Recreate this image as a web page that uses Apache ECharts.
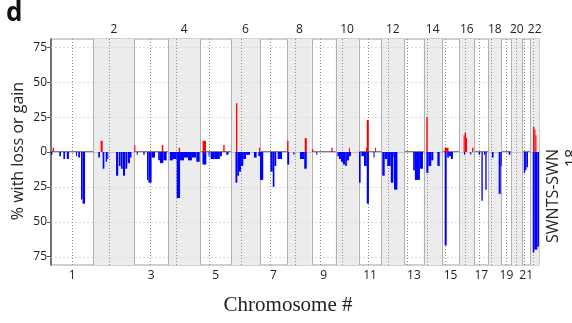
<!DOCTYPE html>
<html>
<head>
<meta charset="utf-8">
<script src="https://cdn.jsdelivr.net/npm/echarts@6/dist/echarts.min.js"></script>
<style>
html,body{margin:0;padding:0;background:#fff}
#chart{width:572px;height:323px}
</style>
</head>
<body>
<div id="chart"></div>
<script>
// chromosomes (hg19, Mb)
const chromNames = ['1','2','3','4','5','6','7','8','9','10','11','12','13','14','15','16','17','18','19','20','21','22'];
const chromLen = [249.25,243.20,198.02,191.15,180.92,171.12,159.14,146.36,141.21,135.53,135.01,133.85,115.17,107.35,102.53,90.35,81.20,78.08,59.13,63.03,48.13,51.30];
const centromere = [125.0,93.3,91.0,50.4,48.4,61.0,59.9,45.6,49.0,40.2,53.7,35.8,17.9,17.6,19.0,36.6,24.0,17.2,26.5,27.5,13.2,14.7];
const yTicks = [-75,-50,-25,0,25,50,75];

// [start Mb, end Mb, % of samples], genome-wide position
const lossSegs = [
  [0,8,2],[49,59,3],[73,83,5],[93,106,5],[148,154,3],[161,171,4],[177,186,34],[186,201,37],
  [279,289,4],[305,315,12],[323,331,7],[332,338,5],[384,397,17],[401,411,10],[413,423,12],[425,437,17],[439,450,12],[453,466,8],[466,475,4],
  [506,512,2],[545,553,2],[567,575,20],[575,594,22],[594,614,4],[633,643,6],[643,663,8],[663,683,6],
  [701,720,6],[720,742,5],[742,762,33],[762,785,6],[785,809,4],[809,832,6],[832,856,4],[858,878,7],
  [894,917,9],[930,936,3],[942,963,5],[963,997,5],[997,1009,3],[1035,1048,2],
  [1089,1100,22],[1100,1110,17],[1110,1122,14],[1122,1135,10],[1135,1151,5],[1151,1175,2],[1198,1214,4],[1224,1234,3],
  [1234,1253,20],[1295,1309,14],[1309,1319,25],[1319,1330,10],[1338,1364,5],
  [1395,1406,9],[1431,1434,2],[1470,1495,5],[1495,1510,12],
  [1566,1572,2],
  [1691,1700,3],[1700,1712,5],[1712,1724,7],[1724,1737,9],[1737,1747,10],[1747,1759,6],[1759,1771,3],
  [1818,1828,22],[1832,1848,3],[1848,1864,10],[1864,1877,37],[1904,1910,4],
  [1956,1970,17],[1970,1985,5],[1985,2006,10],[2006,2021,22],[2021,2025,4],[2025,2045,27],
  [2138,2148,13],[2148,2178,20],[2178,2196,12],
  [2216,2228,15],[2228,2245,10],[2245,2257,6],[2281,2295,10],
  [2324,2336,67],[2339,2349,4],[2349,2361,3],[2361,2373,5],
  [2438,2444,2],[2475,2481,2],
  [2525,2533,2],[2541,2549,35],[2556,2564,2],[2564,2572,27],
  [2603,2613,4],[2643,2655,30],[2655,2659,10],
  [2702,2712,2],
  [2791,2799,15],[2799,2807,13],[2807,2816,11],
  [2844,2853,72],[2853,2871,70],[2871,2881,68]
];
const gainSegs = [
  [10,18,3],[293,305,8],[492,498,5],[654,663,5],[754,762,3],[895,915,8],[1017,1025,5],
  [1092,1100,35],[1228,1234,3],[1394,1402,8],[1498,1510,10],[1541,1549,2],[1655,1663,3],
  [1759,1765,3],[1860,1864,3],[1864,1876,23],[1913,1919,3],[2216,2224,25],[2324,2347,3],
  [2436,2442,12],[2442,2450,14],[2450,2456,10],[2486,2494,3],[2846,2854,18],[2854,2860,16],[2860,2864,12]
];

const chromStart = [];
let acc = 0;
chromLen.forEach(l => { chromStart.push(acc); acc += l; });
const genomeLen = acc;
const chromMid = chromStart.map((s, i) => s + chromLen[i] / 2);
const boundaries = chromStart.slice(1);
const cenPos = chromStart.map((s, i) => s + centromere[i]);
const evenChroms = chromStart.map((s, i) => [s, s + chromLen[i]]).filter((d, i) => i % 2 === 1);

function chromLabel(v) {
  const i = chromMid.findIndex(m => Math.abs(m - v) < 0.01);
  return i >= 0 ? chromNames[i] : '';
}

function vline(dash, color) {
  return function (params, api) {
    const cs = params.coordSys;
    const x = Math.round(api.coord([api.value(0), 0])[0]) + 0.5;
    return {type: 'line', shape: {x1: x, y1: cs.y, x2: x, y2: cs.y + cs.height},
      style: {stroke: color, lineWidth: 1, lineDash: dash}};
  };
}
function hline(dash, color) {
  return function (params, api) {
    const cs = params.coordSys;
    const y = Math.round(api.coord([0, api.value(0)])[1]) + 0.5;
    return {type: 'line', shape: {x1: cs.x, y1: y, x2: cs.x + cs.width, y2: y},
      style: {stroke: color, lineWidth: 1, lineDash: dash}};
  };
}
function bars(sign, color) {
  return function (params, api) {
    const a = api.coord([api.value(0), 0]);
    const b = api.coord([api.value(1), sign * api.value(2)]);
    return {type: 'rect', shape: {x: a[0], y: Math.min(a[1], b[1]), width: Math.max(b[0] - a[0], 1), height: Math.abs(b[1] - a[1])},
      style: {fill: color}};
  };
}

const chart = echarts.init(document.getElementById('chart'));
const font = 'Open Sans';
chart.setOption({
  animation: false,
  backgroundColor: '#fff',
  grid: {left: 51, top: 39, width: 488, height: 226, show: true, borderColor: '#a0a0a0', borderWidth: 1},
  xAxis: [{
    type: 'value', min: 0, max: genomeLen, position: 'bottom',
    axisLine: {show: true, lineStyle: {color: '#555', width: 1.5}},
    axisTick: {show: false}, splitLine: {show: false},
    axisLabel: {customValues: chromMid.filter((m, i) => i % 2 === 0), formatter: chromLabel,
      fontFamily: font, fontSize: 12, color: '#222', margin: 5}
  }, {
    type: 'value', min: 0, max: genomeLen, position: 'top',
    axisLine: {show: false}, axisTick: {show: false}, splitLine: {show: false},
    axisLabel: {customValues: chromMid.filter((m, i) => i % 2 === 1), formatter: chromLabel,
      fontFamily: font, fontSize: 12, color: '#222', margin: 3}
  }],
  yAxis: {
    type: 'value', min: -81, max: 81,
    axisLine: {show: true, lineStyle: {color: '#555', width: 1.5}},
    axisTick: {show: true, customValues: yTicks, length: 4, lineStyle: {color: '#555'}},
    splitLine: {show: false},
    axisLabel: {customValues: yTicks, formatter: v => String(Math.abs(v)),
      fontFamily: font, fontSize: 12, color: '#222', margin: 4}
  },
  graphic: [
    {type: 'text', left: 6, top: 1, style: {text: 'd', font: 'bold 26px "Open Sans"', fill: '#111'}},
    {type: 'text', x: 18, y: 151, rotation: Math.PI / 2,
      style: {text: '% with loss or gain', font: '16px "Open Sans"', fill: '#222', align: 'center', verticalAlign: 'middle'}},
    {type: 'text', x: 288, y: 305,
      style: {text: 'Chromosome #', font: '21px "Liberation Serif"', fill: '#222', align: 'center', verticalAlign: 'middle'}},
    {type: 'text', x: 553, y: 196, rotation: Math.PI / 2,
      style: {text: 'SWNTS-SWN', font: '16px "Open Sans"', fill: '#222', align: 'center', verticalAlign: 'middle'}},
    {type: 'text', x: 572, y: 158, rotation: Math.PI / 2,
      style: {text: '18', font: '16px "Open Sans"', fill: '#222', align: 'center', verticalAlign: 'middle'}}
  ],
  series: [
    {type: 'custom', data: evenChroms, encode: {x: [0, 1]}, silent: true,
      renderItem: function (params, api) {
        const cs = params.coordSys;
        const x0 = api.coord([api.value(0), 0])[0];
        const x1 = api.coord([api.value(1), 0])[0];
        return {type: 'rect', shape: {x: x0, y: cs.y, width: x1 - x0, height: cs.height}, style: {fill: '#ececec'}};
      }},
    {type: 'custom', data: [-75, -50, -25, 25, 50, 75].map(v => [v]), encode: {y: 0}, silent: true, renderItem: hline([2, 2], '#dcdcdc')},
    {type: 'custom', data: [[0]], encode: {y: 0}, silent: true, renderItem: hline(null, '#c8c8c8')},
    {type: 'custom', data: boundaries.map(v => [v]), encode: {x: 0}, silent: true, renderItem: vline(null, '#b0b0b0')},
    {type: 'custom', data: cenPos.map(v => [v]), encode: {x: 0}, silent: true, renderItem: vline([1, 2], '#8c8c8c')},
    {type: 'custom', name: 'loss', data: lossSegs, encode: {x: [0, 1], y: 2}, renderItem: bars(-1, '#0000ff')},
    {type: 'custom', name: 'gain', data: gainSegs, encode: {x: [0, 1], y: 2}, renderItem: bars(1, '#ff0000')}
  ]
});
</script>
</body>
</html>
